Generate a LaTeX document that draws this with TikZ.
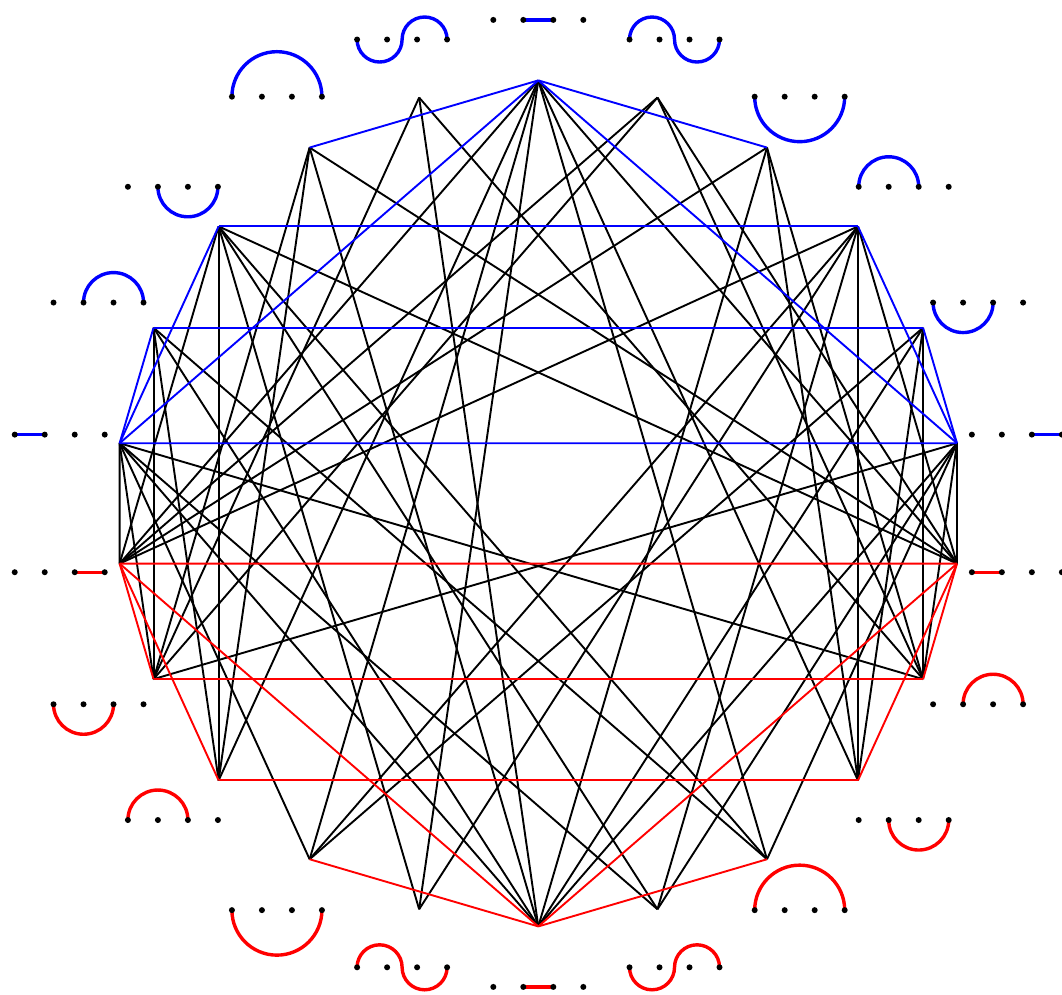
\documentclass[tikz,border=0pt]{standalone}
\usetikzlibrary{calc}
\definecolor{bl}{RGB}{0,0,255}
\definecolor{rd}{RGB}{255,0,0}
\newcommand{\lbcap}[2]{\draw[lab] (#1,0) arc[start angle=180,end angle=0,radius={(#2-(#1))/2}];}
\newcommand{\lbcup}[2]{\draw[lab] (#1,0) arc[start angle=180,end angle=360,radius={(#2-(#1))/2}];}
\newcommand{\lbseg}[2]{\draw[lab] (#1,0) -- (#2,0);}
\newcommand{\lbscap}{\draw[lab] (-45,0) arc[start angle=180,end angle=0,radius=22.5] arc[start angle=180,end angle=360,radius=22.5];}
\newcommand{\lbscup}{\draw[lab] (-45,0) arc[start angle=180,end angle=360,radius=22.5] arc[start angle=180,end angle=0,radius=22.5];}
\newcommand{\lbl}[3]{\begin{scope}[shift={(l#1)},yscale=-1,#2]#3\foreach \xx in {-45,-15,15,45}{\fill[black] (\xx,0) circle (3);}\end{scope}}
\begin{document}
\begin{tikzpicture}[x=1pt,y=-1pt,
  blk/.style={line width=1.9pt,black},
  blu/.style={line width=1.9pt,bl},
  rdl/.style={line width=1.9pt,rd},
  lab/.style={line width=3.4pt}]
\useasboundingbox (0,0) rectangle (1062,994);
\foreach \k in {0,...,21}{
  \coordinate (v\k) at ({538.3+423*cos(90-\k*360/22)},{503.4-423*sin(90-\k*360/22)});
  \coordinate (l\k) at ({538.3+483.5*cos(90-\k*360/22)},{503.4-483.5*sin(90-\k*360/22)});
}
% black edges
\foreach \a/\b in {0/6,0/8,0/9,0/12,0/13,0/14,0/16,
  1/6,1/7,1/15,1/16,
  2/7,2/8,2/11,2/16,
  3/6,3/8,3/10,3/12,3/13,3/16,
  4/7,4/8,4/11,4/13,
  5/6,5/7,5/9,5/10,5/11,5/15,
  17/7,17/10,17/11,17/13,17/15,17/16,
  18/9,18/11,18/14,18/15,
  19/6,19/9,19/10,19/12,19/14,19/16,
  20/6,20/11,20/14,20/15,
  21/7,21/11,21/15}
  {\draw[blk] (v\a) -- (v\b);}
% blue edges
\foreach \a/\b in {0/2,0/20,0/5,0/17,3/19,4/18,5/17,5/4,5/3,17/18,17/19}
  {\draw[blu] (v\a) -- (v\b);}
% red edges
\foreach \a/\b in {11/13,11/9,11/16,11/6,14/8,15/7,16/6,16/15,16/14,6/7,6/8}
  {\draw[rdl] (v\a) -- (v\b);}
% labels
\lbl{0}{bl}{\lbseg{-15}{15}}
\lbl{1}{bl}{\lbscap}
\lbl{2}{bl}{\lbcup{-45}{45}}
\lbl{3}{bl}{\lbcap{-45}{15}}
\lbl{4}{bl}{\lbcup{-45}{15}}
\lbl{5}{bl}{\lbseg{15}{45}}
\lbl{6}{rd}{\lbseg{-45}{-15}}
\lbl{7}{rd}{\lbcap{-15}{45}}
\lbl{8}{rd}{\lbcup{-15}{45}}
\lbl{9}{rd}{\lbcap{-45}{45}}
\lbl{10}{rd}{\lbscup}
\lbl{11}{rd}{\lbseg{-15}{15}}
\lbl{12}{rd}{\lbscap}
\lbl{13}{rd}{\lbcup{-45}{45}}
\lbl{14}{rd}{\lbcap{-45}{15}}
\lbl{15}{rd}{\lbcup{-45}{15}}
\lbl{16}{rd}{\lbseg{15}{45}}
\lbl{17}{bl}{\lbseg{-45}{-15}}
\lbl{18}{bl}{\lbcap{-15}{45}}
\lbl{19}{bl}{\lbcup{-15}{45}}
\lbl{20}{bl}{\lbcap{-45}{45}}
\lbl{21}{bl}{\lbscup}
\end{tikzpicture}
\end{document}
